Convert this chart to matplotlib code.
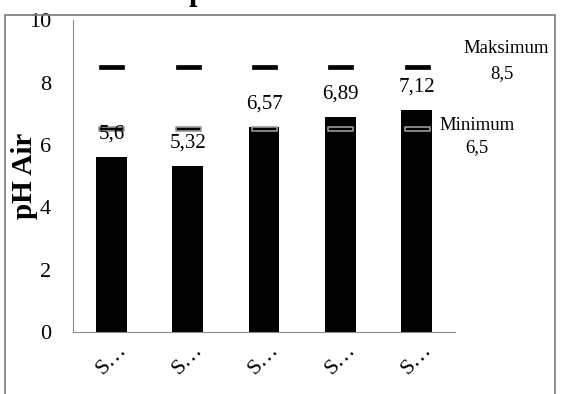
import matplotlib.pyplot as plt
import numpy as np
from matplotlib.path import Path
from matplotlib.patches import Rectangle

# data
labels = ['S…', 'S…', 'S…', 'S…', 'S…']
ph = [5.6, 5.32, 6.57, 6.89, 7.12]
ph_text = ['5,6', '5,32', '6,57', '6,89', '7,12']
maks = [8.5, 8.5, 8.5, 8.5, 8.5]
mini = [6.5, 6.5, 6.5, 6.5, 6.5]

plt.rcParams['font.family'] = ['Liberation Serif', 'DejaVu Serif']

fig = plt.figure(figsize=(5.63, 3.94), dpi=100)
ax = fig.add_axes([0.130, 0.157, 0.678, 0.792])

x = np.arange(len(ph))
ax.bar(x, ph, width=0.4, color='black', zorder=2)

# flat dash marker
dash = Path([(-1, -0.16), (1, -0.16), (1, 0.16), (-1, 0.16), (-1, -0.16)],
            [Path.MOVETO, Path.LINETO, Path.LINETO, Path.LINETO, Path.CLOSEPOLY])
ax.plot(x, maks, ls='none', marker=dash, ms=18, mfc='black', mec='black', mew=0.5, zorder=3)
ax.plot(x, mini, ls='none', marker=dash, ms=18, mfc='black', mec='#9a9a9a', mew=1.2, zorder=3)

for xi, v, t in zip(x, ph, ph_text):
    ax.annotate(t, (xi, v), xytext=(0, 16.5), textcoords='offset points',
                ha='center', va='center', fontsize=15)

ax.text(1.134, 0.910, 'Maksimum', transform=ax.transAxes, ha='center', va='center', fontsize=13.5)
ax.text(1.123, 0.830, '8,5', transform=ax.transAxes, ha='center', va='center', fontsize=13.5)
ax.text(1.058, 0.663, 'Minimum', transform=ax.transAxes, ha='center', va='center', fontsize=13.5)
ax.text(1.058, 0.590, '6,5', transform=ax.transAxes, ha='center', va='center', fontsize=13.5)

ax.set_xlim(-0.5, 4.5)
ax.set_ylim(0, 10)
ax.set_yticks([0, 2, 4, 6, 8, 10])
ax.set_xticks(x)
ax.set_xticklabels(labels, rotation=45, fontsize=16)
ax.tick_params(axis='y', length=0, pad=16, labelsize=16)
ax.tick_params(axis='x', length=0, pad=6)
ax.set_ylabel('pH Air', fontsize=21, fontweight='bold', va='center')
ax.yaxis.set_label_coords(-0.128, 0.50)

for s in ['top', 'right']:
    ax.spines[s].set_visible(False)
for s in ['left', 'bottom']:
    ax.spines[s].set_color('#8c8c8c')

# outer frame of the chart box
fig.patches.append(Rectangle((5 / 563, -0.1), 550 / 563, 1.1 - 15 / 394,
                             transform=fig.transFigure, fill=False,
                             edgecolor='#7a7a7a', linewidth=1.2))
fig.text(197 / 563, 1.0, 'p', ha='center', va='baseline', fontsize=22, fontweight='bold')

fig.savefig('out.png', dpi=100)
